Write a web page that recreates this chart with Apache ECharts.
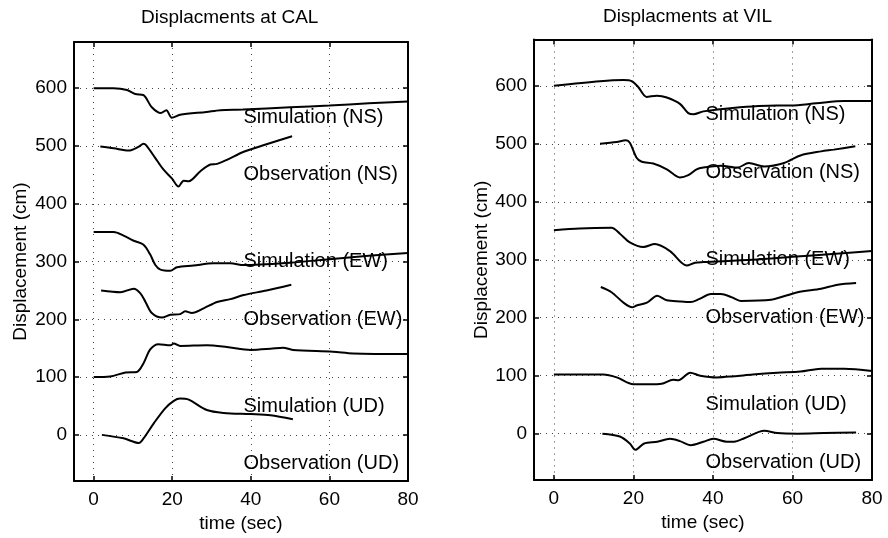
<!DOCTYPE html>
<html>
<head>
<meta charset="utf-8">
<script src="https://cdn.jsdelivr.net/npm/echarts@6/dist/echarts.min.js"></script>
<style>
html,body{margin:0;padding:0;background:#fff;}
#chart{width:888px;height:538px;}
</style>
</head>
<body>
<div id="chart"></div>
<script>
// ---- data (time in sec, displacement in cm) ----
const titles = ['Displacments at CAL', 'Displacments at VIL'];
const xTicks = [0, 20, 40, 60, 80];
const yTicks = [0, 100, 200, 300, 400, 500, 600];
const xName = 'time (sec)';
const yName = 'Displacement (cm)';

const calSimNS = [[0,600],[5,600],[8.5,597],[10.6,590],[12.7,588],[14.8,567],[17.1,557],[18.5,562],[19.9,549],[22,554],[28.7,559],[32.2,562],[38,563],[50,567],[60,570],[70,574],[80,577]];
const calObsNS = [[1.7,499],[5.1,496],[8.9,492],[11.5,499],[12.7,504],[13.4,501],[15.7,479],[17.8,459],[19.9,444],[21.6,430],[22.9,440],[24.2,439],[27.1,456],[29.7,468],[31.4,469],[33.9,476],[38.2,490],[44,503],[50.5,517]];
const calSimEW = [[0,351],[5.1,351],[7.6,345],[10.2,336],[12.7,329],[14.4,312],[15.7,294],[17,286],[19.5,284],[21.2,290],[25.4,293],[30.5,297],[34.8,297],[38.2,294],[50,298],[60,304],[70,310],[80,315]];
const calObsEW = [[1.9,250],[6.8,247],[10.2,253],[11.9,245],[13.2,230],[14.8,211],[17.4,203],[19.5,208],[22,209],[23.3,214],[25,211],[28,219],[31.4,230],[34.8,235],[38.2,242],[44,250],[50.3,260]];
const calSimUD = [[0,100],[4.2,101],[8.1,108],[11,109],[12.7,124],[14.4,148],[16.5,157],[19.5,155],[20.4,158],[22,154],[28.8,155],[33.9,152],[40,147],[45,149],[48.2,151],[50.7,147],[60.9,144],[66,141],[80,140]];
const calObsUD = [[2.1,0],[7.6,-6],[11.5,-14],[12.7,-6],[15.3,20],[18.2,46],[20.4,59],[22,63],[24.2,61],[28.8,43],[33.1,38],[40,36],[45,34],[50.7,27]];

const vilSimNS = [[0,600],[11.6,608],[17.5,610],[19.6,608],[21.2,598],[23.3,581],[25.9,583],[28.4,580],[31.7,569],[33.8,553],[35.1,551],[37.6,556],[45,562],[56,566],[59.6,566],[66,570],[73,574],[80,574]];
const vilObsNS = [[11.6,500],[15.8,503],[18.1,506],[19.1,502],[20.8,476],[22.1,469],[25,466],[28.4,456],[31.7,442],[33.8,446],[35.9,456],[37.6,459],[42,462],[46.2,459],[49,467],[52.9,461],[57.9,467],[62,480],[67.2,487],[70.4,490],[75.8,496]];
const vilSimEW = [[0,351],[6.5,354],[14.5,355],[16.6,345],[19.1,330],[22.5,322],[25.4,327],[29.2,315],[33.4,290],[35.5,295],[37.6,296],[50,300],[60,305],[70,310],[80,315]];
const vilObsEW = [[11.8,253],[14.5,244],[17.5,226],[19.7,218],[20.8,221],[23.4,226],[26,238],[28.4,230],[31.7,228],[34.4,227],[36.5,232],[39.5,241],[42,241],[44.8,235],[47,229],[54.6,231],[61.3,244],[67.2,250],[71.4,257],[76,260]];
const vilSimUD = [[0,102],[12.4,102],[15.8,97],[20,85],[24.2,85],[27.1,86],[30,93],[31.3,92],[34.3,105],[36.8,100],[41,97],[45.3,99],[50,102],[56.2,105],[62,107],[67.2,112],[73,112],[80,108]];
const vilObsUD = [[12.2,0],[16.6,-5],[19.1,-17],[20.5,-28],[22.7,-17],[26,-14],[29.2,-9],[31.7,-13],[34.4,-20],[37.6,-14],[40.1,-9],[43.5,-14],[45.3,-14],[47.9,-8],[52.9,5],[56.2,1],[61.3,0],[68,1],[76,2]];

// annotation texts and their anchor (data coords)
const annoText = ['Simulation (NS)', 'Observation (NS)', 'Simulation (EW)', 'Observation (EW)', 'Simulation (UD)', 'Observation (UD)'];
const annoY = [550, 450, 300, 200, 50, -50];
const annoX = 38;

const FONT = 'Liberation Sans, Arial, Helvetica, sans-serif';
const chart = echarts.init(document.getElementById('chart'), null, {renderer: 'canvas'});

const grids = [
  {left: 74, top: 42, width: 334, height: 440},
  {left: 534, top: 39.5, width: 338, height: 440.5}
];

function bottomX(i) {
  return {
    type: 'value', gridIndex: i, min: -5, max: 80, position: 'bottom',
    name: xName, nameLocation: 'middle', nameGap: 31,
    nameTextStyle: {fontFamily: FONT, fontSize: 19, color: '#000'},
    axisLine: {show: true, onZero: false, lineStyle: {color: '#000', width: 2}},
    axisTick: {show: true, inside: true, length: 5, customValues: xTicks, lineStyle: {color: '#000', width: 1.5}},
    axisLabel: {customValues: xTicks, fontFamily: FONT, fontSize: 19, color: '#000', margin: 9},
    splitLine: {show: true, lineStyle: {color: '#444', width: 1, type: [1, 5]}}
  };
}
function topX(i) {
  return {
    type: 'value', gridIndex: i, min: -5, max: 80, position: 'top',
    axisLine: {show: true, onZero: false, lineStyle: {color: '#000', width: 2}},
    axisTick: {show: true, inside: true, length: 5, customValues: xTicks, lineStyle: {color: '#000', width: 1.5}},
    axisLabel: {show: false, customValues: xTicks},
    splitLine: {show: false}
  };
}
function leftY(i, gap) {
  return {
    type: 'value', gridIndex: i, min: -80, max: 680, position: 'left',
    name: yName, nameLocation: 'middle', nameGap: gap, nameRotate: 90,
    nameTextStyle: {fontFamily: FONT, fontSize: 19, color: '#000'},
    axisLine: {show: true, onZero: false, lineStyle: {color: '#000', width: 2}},
    axisTick: {show: true, inside: true, length: 5, customValues: yTicks, lineStyle: {color: '#000', width: 1.5}},
    axisLabel: {customValues: yTicks, fontFamily: FONT, fontSize: 19, color: '#000', margin: 7},
    splitLine: {show: true, lineStyle: {color: '#444', width: 1, type: [1, 5]}}
  };
}
function rightY(i) {
  return {
    type: 'value', gridIndex: i, min: -80, max: 680, position: 'right',
    axisLine: {show: true, onZero: false, lineStyle: {color: '#000', width: 2}},
    axisTick: {show: true, inside: true, length: 5, customValues: yTicks, lineStyle: {color: '#000', width: 1.5}},
    axisLabel: {show: false, customValues: yTicks},
    splitLine: {show: false}
  };
}

function line(data, gi) {
  return {
    type: 'line', xAxisIndex: gi, yAxisIndex: gi, data: data,
    showSymbol: false, symbol: 'none', smooth: 0.3,
    lineStyle: {color: '#000', width: 2}, silent: true, z: 3
  };
}
function annos(gi) {
  return {
    type: 'scatter', xAxisIndex: gi, yAxisIndex: gi, symbolSize: 1, silent: true, z: 2,
    itemStyle: {color: 'rgba(0,0,0,0)', opacity: 1},
    data: annoText.map((t, k) => ({value: [annoX, annoY[k]], name: t})),
    label: {show: true, position: 'right', distance: 0, formatter: p => p.name,
      fontFamily: FONT, fontSize: 20, color: '#000', opacity: 1}
  };
}

const option = {
  animation: false,
  backgroundColor: '#fff',
  grid: grids,
  xAxis: [bottomX(0), bottomX(1), topX(0), topX(1)],
  yAxis: [leftY(0, 44), leftY(1, 42), rightY(0), rightY(1)],
  graphic: [
    {type: 'text', left: 241 - 100, top: 8, style: {text: titles[0], font: '19px ' + FONT, fill: '#000', width: 200, align: 'center'}},
    {type: 'text', left: 703 - 100, top: 7, style: {text: titles[1], font: '19px ' + FONT, fill: '#000', width: 200, align: 'center'}}
  ],
  series: [
    line(calSimNS, 0), line(calObsNS, 0), line(calSimEW, 0), line(calObsEW, 0), line(calSimUD, 0), line(calObsUD, 0),
    line(vilSimNS, 1), line(vilObsNS, 1), line(vilSimEW, 1), line(vilObsEW, 1), line(vilSimUD, 1), line(vilObsUD, 1),
    annos(0), annos(1)
  ]
};
chart.setOption(option);
</script>
</body>
</html>
